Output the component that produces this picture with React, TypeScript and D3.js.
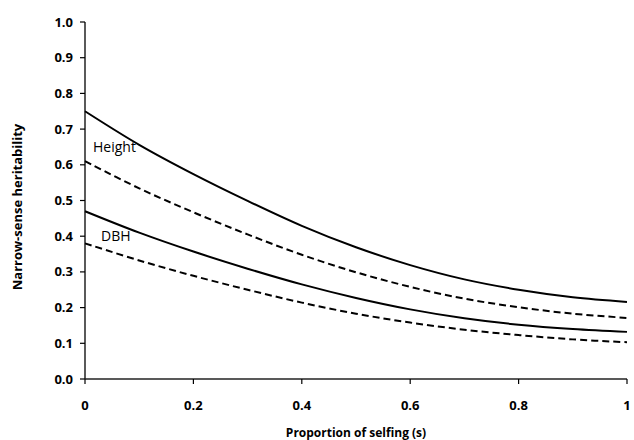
import React from 'react';
import * as d3 from 'd3';

// proportion of selfing
const selfing = [0, 0.1, 0.2, 0.3, 0.4, 0.5, 0.6, 0.7, 0.8, 0.9, 1];

// narrow-sense heritability
const heightSolid = [0.75, 0.656, 0.574, 0.499, 0.429, 0.369, 0.319, 0.279, 0.25, 0.229, 0.216];
const heightDashed = [0.61, 0.534, 0.467, 0.405, 0.348, 0.299, 0.258, 0.225, 0.201, 0.183, 0.171];
const dbhSolid = [0.47, 0.41, 0.357, 0.309, 0.265, 0.227, 0.195, 0.17, 0.152, 0.14, 0.132];
const dbhDashed = [0.38, 0.332, 0.289, 0.25, 0.214, 0.183, 0.158, 0.138, 0.123, 0.111, 0.103];

const xTicks = [0, 0.2, 0.4, 0.6, 0.8, 1];
const yTicks = [0, 0.1, 0.2, 0.3, 0.4, 0.5, 0.6, 0.7, 0.8, 0.9, 1.0];

const series = [
  { name: 'heightSolid', values: heightSolid, dashed: false },
  { name: 'heightDashed', values: heightDashed, dashed: true },
  { name: 'dbhSolid', values: dbhSolid, dashed: false },
  { name: 'dbhDashed', values: dbhDashed, dashed: true },
];

const font = "'Open Sans', 'DejaVu Sans', sans-serif";

export default function App() {
  const width = 634;
  const height = 440;
  const x = d3.scaleLinear().domain([0, 1]).range([85, 627]);
  const y = d3.scaleLinear().domain([0, 1]).range([379, 22]);

  const line = d3
    .line<number>()
    .x((_, i) => x(selfing[i]))
    .y(d => y(d))
    .curve(d3.curveCatmullRom);

  return (
    <svg
      width={width}
      height={height}
      style={{ position: 'absolute', left: 0, top: 0, background: '#fff' }}
      fontFamily={font}
    >
      {/* y axis */}
      <line x1={x(0)} x2={x(0)} y1={y(0)} y2={y(1)} stroke="#000" strokeWidth={1.3} />
      {yTicks.map(t => (
        <g key={t}>
          <line x1={x(0) - 5} x2={x(0)} y1={y(t)} y2={y(t)} stroke="#000" strokeWidth={1.2} />
          <text
            x={73}
            y={y(t)}
            dy="0.35em"
            textAnchor="end"
            fontSize={13}
            fontWeight={700}
          >
            {t.toFixed(1)}
          </text>
        </g>
      ))}
      {/* x axis */}
      <line x1={x(0)} x2={x(1)} y1={y(0)} y2={y(0)} stroke="#222" strokeWidth={1.3} />
      {xTicks.map(t => (
        <g key={t}>
          <line x1={x(t)} x2={x(t)} y1={y(0)} y2={y(0) + 5} stroke="#000" strokeWidth={1.2} />
          <text x={x(t)} y={405} dy="0.35em" textAnchor="middle" fontSize={13} fontWeight={700}>
            {String(t)}
          </text>
        </g>
      ))}
      <text x={356} y={433} dy="0.35em" textAnchor="middle" fontSize={12} fontWeight={700}>
        Proportion of selfing (s)
      </text>
      <text
        transform="translate(17,207) rotate(-90)"
        textAnchor="middle"
        dy="0.35em"
        fontSize={13}
        fontWeight={700}
      >
        Narrow-sense heritability
      </text>

      {series.map(s => (
        <path
          key={s.name}
          d={line(s.values) ?? ''}
          fill="none"
          stroke="#000"
          strokeWidth={2}
          strokeDasharray={s.dashed ? '7,4' : undefined}
        />
      ))}

      <text x={93} y={147} dy="0.35em" fontSize={14}>Height</text>
      <text x={101} y={236} dy="0.35em" fontSize={14}>DBH</text>
    </svg>
  );
}
